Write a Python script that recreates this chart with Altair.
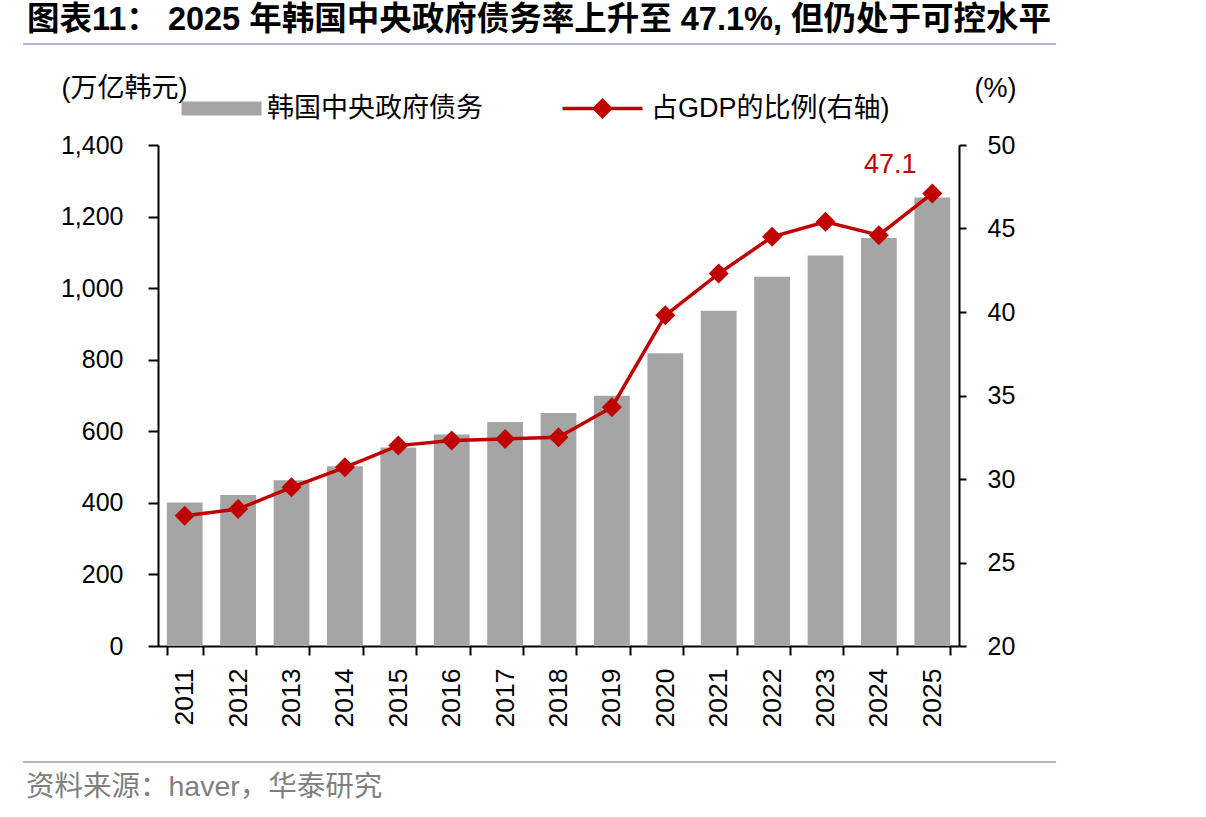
import altair as alt
import pandas as pd

# ---------------- data ----------------
years = [str(y) for y in range(2011, 2026)]
debt = [401, 422, 463, 502, 555, 591, 626, 651, 699, 818, 937, 1032, 1091, 1140, 1253]
ratio = [27.8, 28.2, 29.5, 30.7, 32.0, 32.3, 32.4, 32.5, 34.3, 39.8, 42.3, 44.5, 45.4, 44.6, 47.1]
left_ticks = [0, 200, 400, 600, 800, 1000, 1200, 1400]
right_ticks = [20, 25, 30, 35, 40, 45, 50]

BAR_NAME = "韩国中央政府债务"
LINE_NAME = "占GDP的比例(右轴)"
TITLE = "图表11：  2025 年韩国中央政府债务率上升至 47.1%, 但仍处于可控水平"
SOURCE = "资料来源：haver，华泰研究"
LEFT_UNIT = "(万亿韩元)"
RIGHT_UNIT = "(%)"

FONT = "Liberation Sans, Arial, Noto Sans CJK SC"
GRAY = "#A5A5A5"
RED = "#C00000"

df = pd.DataFrame({"year": years, "debt": debt, "ratio": ratio,
                   "s1": BAR_NAME, "s2": LINE_NAME})
one = pd.DataFrame({"k": [0]})

x_enc = alt.X("year:N", sort=years, title=None,
              scale=alt.Scale(paddingInner=0.33, paddingOuter=0.165),
              axis=alt.Axis(labelAngle=270, labelAlign="right", labelBaseline="middle",
                            tickBand="extent", tickSize=9, labelPadding=13,
                            labelFontSize=26.5))

bars = alt.Chart(df).mark_bar().encode(
    x=x_enc,
    y=alt.Y("debt:Q", scale=alt.Scale(domain=[0, 1400], nice=False),
            axis=alt.Axis(values=left_ticks, format=",d", grid=False,
                          title=LEFT_UNIT, titleAngle=0, titleX=-97, titleY=-57,
                          titleAlign="left", titleBaseline="middle",
                          tickSize=10, labelPadding=25)),
    fill=alt.Fill("s1:N", scale=alt.Scale(domain=[BAR_NAME], range=[GRAY]),
                  legend=alt.Legend(orient="none", legendX=50, legendY=-50, title=None,
                                    symbolType="M-5.714,-1L5.714,-1L5.714,1L-5.714,1Z",
                                    symbolSize=196, symbolStrokeWidth=0, labelOffset=32,
                                    padding=0, labelFont=FONT, labelFontSize=27,
                                    labelLimit=0, labelColor="black")),
)

y_right = alt.Y("ratio:Q", scale=alt.Scale(domain=[20, 50], nice=False, zero=False),
                axis=alt.Axis(orient="right", values=right_ticks, grid=False,
                              title=RIGHT_UNIT, titleAngle=0, titleX=15, titleY=-57,
                              titleAlign="left", titleBaseline="middle",
                              tickSize=7, labelPadding=21))

line = alt.Chart(df).mark_line(strokeWidth=3.5).encode(
    x=alt.X("year:N", sort=years),
    y=y_right,
    stroke=alt.Stroke("s2:N", scale=alt.Scale(domain=[LINE_NAME], range=[RED]),
                      legend=alt.Legend(orient="none", legendX=431, legendY=-50, title=None,
                                        symbolType="M-4,0L4,0M-0.8,0L0,-0.8L0.8,0L0,0.8Z",
                                        symbolSize=400, symbolStrokeWidth=3.5,
                                        symbolFillColor=RED, labelOffset=35, padding=0,
                                        labelFont=FONT, labelFontSize=27,
                                        labelLimit=0, labelColor="black")),
)

points = alt.Chart(df).mark_point(shape="diamond", filled=True, size=400,
                                  color=RED, opacity=1).encode(
    x=alt.X("year:N", sort=years), y=alt.Y("ratio:Q"))

label = alt.Chart(df).transform_filter(alt.datum.year == "2025").mark_text(
    color=RED, font=FONT, fontSize=27, dx=-42, dy=-28).encode(
    x=alt.X("year:N", sort=years), y=alt.Y("ratio:Q"),
    text=alt.Text("ratio:Q", format=".1f"))

right_layer = alt.layer(line, points, label)

title_text = alt.Chart(one).mark_text(
    text=TITLE, align="left", baseline="top", font=FONT, fontSize=32.5,
    fontWeight="bold", color="black").encode(x=alt.value(-131), y=alt.value(-141))
rule_top = alt.Chart(one).mark_rule(color="#A5B8D0", strokeWidth=2).encode(
    x=alt.value(-135), x2=alt.value(898), y=alt.value(-101))
rule_bottom = alt.Chart(one).mark_rule(color="#A5B8D0", strokeWidth=2).encode(
    x=alt.value(-135), x2=alt.value(898), y=alt.value(617))
source = alt.Chart(one).mark_text(
    text=SOURCE, align="left", baseline="middle", font=FONT, fontSize=28.5,
    color="#7F7F7F").encode(x=alt.value(-132), y=alt.value(642))

chart = alt.layer(bars, right_layer, title_text, rule_top, rule_bottom, source).resolve_scale(
    y="independent"
).properties(
    width=801, height=501,
    padding={"left": 22, "top": 4, "right": 5, "bottom": 5},
).configure_view(stroke=None).configure_axis(
    domainColor="black", domainWidth=2, tickColor="black", tickWidth=2,
    labelFont=FONT, labelFontSize=25, labelColor="black",
    titleFont=FONT, titleFontSize=27, titleFontWeight="normal", titleColor="black",
)

chart.save("out.html", embed_options={"renderer": "svg", "actions": False})
